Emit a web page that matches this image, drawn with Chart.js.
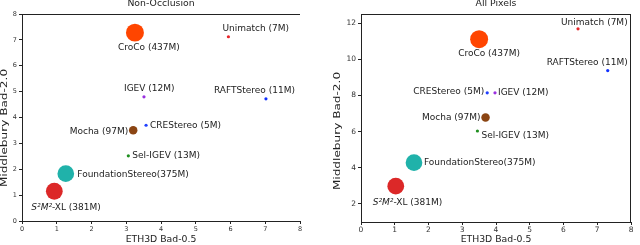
<!DOCTYPE HTML>
<html>
<head>
<script src="https://cdn.jsdelivr.net/npm/chart.js"></script>
<style>
    body { margin: 0; background: #fff; width: 640px; height: 245px; overflow: hidden; }
    .box { position: absolute; top: 0; width: 320px; height: 245px; }
</style>
</head>
<body>

<div class="box" style="left:0"><canvas id="occChart" width="320" height="245"></canvas></div>
<div class="box" style="left:320px"><canvas id="allChart" width="320" height="245"></canvas></div>

<script type="text/javascript">
// data
const methods = ['CroCo', 'Unimatch', 'IGEV', 'RAFTStereo', 'CREStereo', 'Mocha', 'Sel-IGEV', 'FoundationStereo', 'S²M²-XL'];
const params = [437, 7, 12, 11, 5, 97, 13, 375, 381];
const labels = ['CroCo (437M)', 'Unimatch (7M)', 'IGEV (12M)', 'RAFTStereo (11M)', 'CREStereo (5M)', 'Mocha (97M)', 'Sel-IGEV (13M)', 'FoundationStereo(375M)', 'S²M²-XL (381M)'];

const occEth = [3.25, 5.94, 3.51, 7.02, 3.57, 3.20, 3.06, 1.26, 0.93];
const occMid = [7.28, 7.12, 4.80, 4.72, 3.70, 3.51, 2.52, 1.83, 1.15];
const allEth = [3.50, 6.43, 3.97, 7.31, 3.74, 3.69, 3.45, 1.57, 1.03];
const allMid = [11.11, 11.68, 8.14, 9.37, 8.14, 6.78, 6.03, 4.28, 2.98];

const xTicks = [0, 1, 2, 3, 4, 5, 6, 7, 8];
const occYTicks = [0, 1, 2, 3, 4, 5, 6, 7, 8];
const allYTicks = [2, 4, 6, 8, 10, 12];

// styles
const colors = ['#ff4500', '#e8262a', '#9b30e0', '#1030ff', '#2040ff', '#8b4513', '#1f8f1f', '#20b2aa', '#dc2828'];
const radii = params.map(p => Math.max(1.6, 0.43 * Math.sqrt(p)));

// label offsets from the point: [dx, dy, align]
const occOffsets = [[-17, 15, 'left'], [-6, -8, 'left'], [-20, -8.5, 'left'], [-52, -8.7, 'left'], [4, 0, 'left'],
                    [-5, 1.5, 'right'], [4, 0, 'left'], [11.5, 1.5, 'left'], [-23, 16, 'left']];
const allOffsets = [[-21, 15, 'left'], [-17, -6.3, 'left'], [3, -0.7, 'left'], [20, -8.4, 'right'], [-3, -1, 'right'],
                    [-5, 0, 'right'], [4, 4.3, 'left'], [10, 0.4, 'left'], [-23, 16.5, 'left']];

const FONT = 'DejaVu Sans';
const INK = '#222';

function drawLabel(ctx, text, x, y, align) {
    ctx.textBaseline = 'middle';
    const plain = '9px "' + FONT + '"';
    const ital = 'italic 9px "' + FONT + '"';
    if (text.startsWith('S²M²')) {
        const head = 'S²M²';
        const rest = text.slice(head.length);
        ctx.font = ital;
        const w1 = ctx.measureText(head).width;
        ctx.font = plain;
        const w2 = ctx.measureText(rest).width;
        let x0 = align === 'right' ? x - w1 - w2 : x;
        ctx.textAlign = 'left';
        ctx.font = ital;
        ctx.fillText(head, x0, y);
        ctx.font = plain;
        ctx.fillText(rest, x0 + w1, y);
    } else {
        ctx.font = plain;
        ctx.textAlign = align;
        ctx.fillText(text, x, y);
    }
}

const decorPlugin = {
    id: 'decor',
    afterDatasetsDraw(chart, args, opts) {
        const ctx = chart.ctx;
        const area = chart.chartArea;
        const meta = chart.getDatasetMeta(0);
        ctx.save();
        ctx.fillStyle = INK;
        meta.data.forEach((pt, i) => {
            const o = opts.offsets[i];
            drawLabel(ctx, labels[i], pt.x + o[0], pt.y + o[1], o[2]);
        });

        // spines not drawn by the axes
        ctx.strokeStyle = INK;
        ctx.lineWidth = 1;
        ctx.beginPath();
        ctx.moveTo(area.left, area.top + 0.5);
        ctx.lineTo(area.right, area.top + 0.5);
        if (opts.rightSpine) {
            ctx.moveTo(area.right - 0.5, area.top);
            ctx.lineTo(area.right - 0.5, area.bottom);
        }
        ctx.stroke();

        // panel title
        ctx.font = '9.3px "' + FONT + '"';
        ctx.textAlign = 'center';
        ctx.textBaseline = 'middle';
        ctx.fillText(opts.title, (area.left + area.right) / 2, 4);

        // y axis title
        ctx.save();
        ctx.translate(opts.yTitleX, opts.yTitleY);
        ctx.rotate(-Math.PI / 2);
        ctx.scale(1.3, 1);
        ctx.fillText('Middlebury Bad-2.0', 0, 0);
        ctx.restore();
        ctx.restore();
    }
};

function makeChart(id, xs, ys, yMin, yMax, yTicks, cfg) {
    return new Chart(document.getElementById(id), {
        type: 'scatter',
        data: {
            datasets: [{
                data: xs.map((x, i) => ({ x: x, y: ys[i] })),
                backgroundColor: colors,
                pointRadius: radii,
                pointHoverRadius: radii,
                pointBorderWidth: 0,
                borderWidth: 0
            }]
        },
        options: {
            responsive: false,
            animation: false,
            devicePixelRatio: 1,
            layout: { padding: { top: 14, right: cfg.padRight, left: 0, bottom: 0 } },
            plugins: {
                legend: { display: false },
                tooltip: { enabled: false },
                decor: cfg
            },
            scales: {
                x: {
                    type: 'linear',
                    min: 0, max: 8,
                    afterBuildTicks: s => { s.ticks = xTicks.map(v => ({ value: v })); },
                    afterFit: s => { s.height = cfg.xHeight; },
                    grid: { display: true, drawOnChartArea: false, drawTicks: true, tickLength: 3, color: INK },
                    border: { display: true, color: INK, width: 1 },
                    ticks: { font: { family: FONT, size: cfg.tickSize }, color: '#333', padding: 1, maxRotation: 0 },
                    title: { display: true, text: 'ETH3D Bad-0.5', color: INK, font: { family: FONT, size: 9.3 }, padding: { top: 0, bottom: 0 } }
                },
                y: {
                    type: 'linear',
                    min: yMin, max: yMax,
                    afterBuildTicks: s => { s.ticks = yTicks.map(v => ({ value: v })); },
                    afterFit: s => { s.width = cfg.yWidth; },
                    grid: { display: true, drawOnChartArea: false, drawTicks: true, tickLength: 3, color: INK },
                    border: { display: true, color: INK, width: 1 },
                    ticks: { font: { family: FONT, size: cfg.tickSize }, color: '#333', padding: 2 },
                    title: { display: false }
                }
            }
        },
        plugins: [decorPlugin]
    });
}

makeChart('occChart', occEth, occMid, 0, 8, occYTicks, {
    offsets: occOffsets, title: 'Non-Occlusion', rightSpine: false,
    padRight: 20, xHeight: 24, yWidth: 22, tickSize: 6.5, yTitleX: 5, yTitleY: 128
});

makeChart('allChart', allEth, allMid, 1, 12.5, allYTicks, {
    offsets: allOffsets, title: 'All Pixels', rightSpine: true,
    padRight: 2, xHeight: 23, yWidth: 41, tickSize: 7.5, yTitleX: 18, yTitleY: 131
});
</script>
</body>
</html>
